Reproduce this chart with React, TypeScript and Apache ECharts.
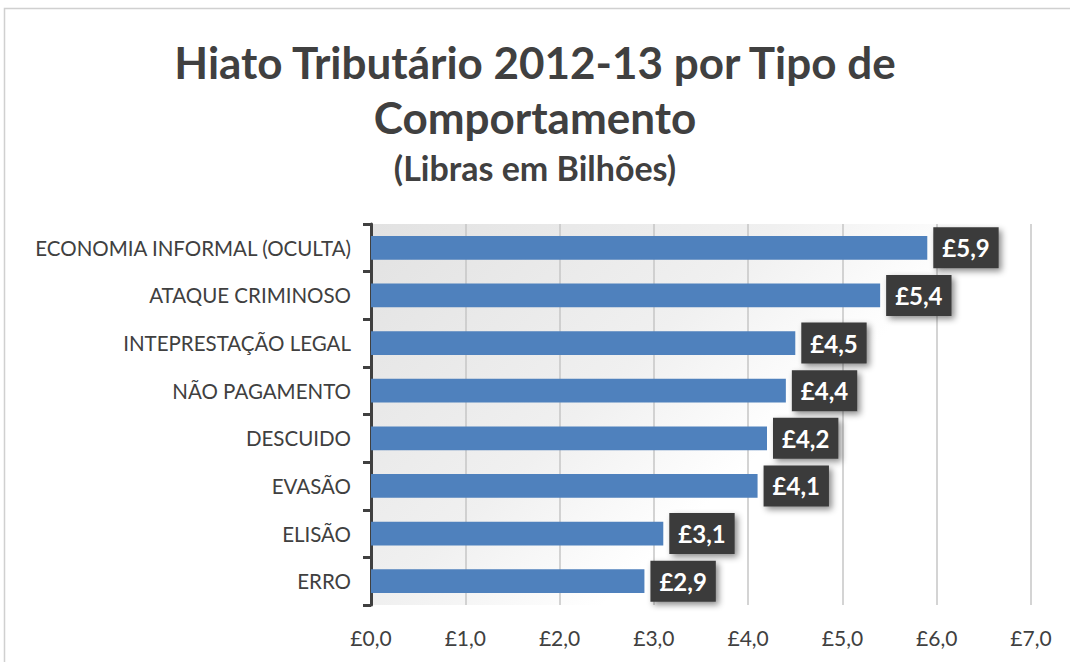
import React, { useEffect, useRef } from "react";
import * as echarts from "echarts";

const categories = [
  "ECONOMIA INFORMAL (OCULTA)",
  "ATAQUE CRIMINOSO",
  "INTEPRESTAÇÃO LEGAL",
  "NÃO PAGAMENTO",
  "DESCUIDO",
  "EVASÃO",
  "ELISÃO",
  "ERRO",
];
const values = [5.9, 5.4, 4.5, 4.4, 4.2, 4.1, 3.1, 2.9];
const titleText = "Hiato Tributário 2012-13 por Tipo de\nComportamento";
const subtitleText = "(Libras em Bilhões)";

const FONT = "Lato, 'Open Sans', sans-serif";
const fmt = (v: number) => "£" + v.toFixed(1).replace(".", ",");

export default function App() {
  const ref = useRef<HTMLDivElement>(null);
  useEffect(() => {
    if (!ref.current) return;
    const chart = echarts.init(ref.current, undefined, { renderer: "svg" });
    chart.setOption({
      animation: false,
      backgroundColor: "#ffffff",
      textStyle: { fontFamily: FONT },
      graphic: [
        {
          type: "rect",
          shape: { x: 4.5, y: 8.5, width: 1080, height: 700 },
          style: { fill: "none", stroke: "#d0d0d0", lineWidth: 1.5 },
          silent: true,
          z: -1,
        },
        {
          type: "text",
          x: 535,
          y: 34,
          style: {
            text: titleText,
            fontFamily: FONT,
            fontSize: 44,
            fontWeight: "bold",
            fill: "#404040",
            align: "center",
            verticalAlign: "top",
            lineHeight: 55,
          },
        },
        {
          type: "text",
          x: 535,
          y: 150,
          style: {
            text: subtitleText,
            fontFamily: FONT,
            fontSize: 34,
            fontWeight: "bold",
            fill: "#404040",
            align: "center",
            verticalAlign: "top",
          },
        },
      ],
      grid: {
        left: 371,
        right: 39,
        top: 224,
        bottom: 57,
        show: true,
        borderWidth: 0,
        backgroundColor: {
          type: "linear",
          x: 0,
          y: 0,
          x2: 1,
          y2: 0.6,
          colorStops: [
            { offset: 0, color: "#e2e2e2" },
            { offset: 0.45, color: "#f0f0f0" },
            { offset: 0.7, color: "#ffffff" },
            { offset: 1, color: "#ffffff" },
          ],
        },
      },
      xAxis: {
        type: "value",
        min: 0,
        max: 7,
        interval: 1,
        axisLine: { show: false },
        axisTick: { show: false },
        splitLine: { show: true, lineStyle: { color: "#c6c6c6", width: 1.5 } },
        axisLabel: {
          formatter: (v: number) => fmt(v),
          fontSize: 21,
          color: "#404040",
          margin: 22,
          fontFamily: FONT,
        },
      },
      yAxis: {
        type: "category",
        data: categories,
        inverse: true,
        axisLine: { show: true, lineStyle: { color: "#404040", width: 3 } },
        axisTick: { show: true, length: 8, lineStyle: { color: "#404040", width: 3 } },
        axisLabel: {
          fontSize: 20.5,
          color: "#404040",
          margin: 20,
          fontFamily: FONT,
        },
      },
      series: [
        {
          type: "bar",
          data: values,
          barWidth: "50%",
          itemStyle: { color: "#4f81bd" },
          label: {
            show: true,
            position: "right",
            distance: 6,
            formatter: (p: any) => fmt(p.value),
            backgroundColor: "#3a3a3a",
            color: "#ffffff",
            fontSize: 24,
            fontWeight: "bold",
            fontFamily: FONT,
            padding: [9, 9, 8, 9],
            shadowColor: "rgba(0,0,0,0.45)",
            shadowBlur: 6,
            shadowOffsetX: 3,
            shadowOffsetY: 3,
          },
        },
      ],
    });
    return () => chart.dispose();
  }, []);
  return (
    <div
      ref={ref}
      style={{ position: "absolute", left: 0, top: 0, width: 1070, height: 662 }}
    />
  );
}
